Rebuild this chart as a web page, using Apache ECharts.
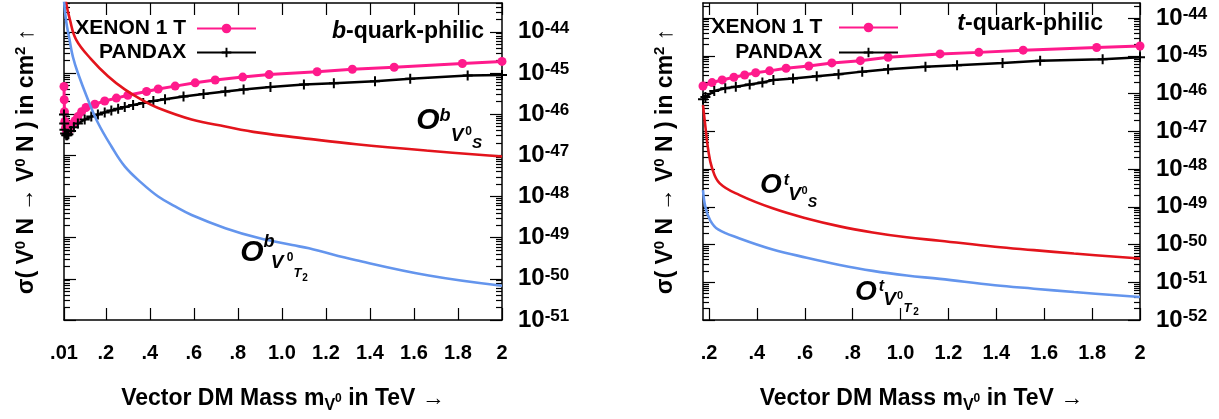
<!DOCTYPE html>
<html><head><meta charset="utf-8">
<script src="https://cdn.jsdelivr.net/npm/echarts@6/dist/echarts.min.js"></script>
<style>html,body{margin:0;padding:0;background:#fff}#c{width:1219px;height:419px}</style>
</head><body><div id="c"></div>
<script>
// ---------------- data (masses in TeV, cross-sections in cm^2) ----------------
const xTicksB = [0.01, 0.2, 0.4, 0.6, 0.8, 1.0, 1.2, 1.4, 1.6, 1.8, 2.0];
const xLabelsB = ['.01', '.2', '.4', '.6', '.8', '1.0', '1.2', '1.4', '1.6', '1.8', '2'];
const xTicksT = [0.2, 0.4, 0.6, 0.8, 1.0, 1.2, 1.4, 1.6, 1.8, 2.0];
const xLabelsT = ['.2', '.4', '.6', '.8', '1.0', '1.2', '1.4', '1.6', '1.8', '2'];
const yExpB = [-51, -50, -49, -48, -47, -46, -45, -44];
const yExpT = [-52, -51, -50, -49, -48, -47, -46, -45, -44];

// b-quark-philic panel
const bMassXenon = [0.010,0.011,0.012,0.014,0.017,0.020,0.025,0.030,0.040,0.050,0.060,0.073,0.090,0.110,0.150,0.195,0.248,0.300,0.385,0.438,0.515,0.606,0.697,0.822,0.942,1.16,1.32,1.51,1.82,2.00];
const bXenon = [4.68e-46,2.24e-46,1.15e-46,6.61e-47,4.68e-47,3.98e-47,3.72e-47,3.89e-47,4.68e-47,5.75e-47,6.92e-47,8.71e-47,1.15e-46,1.45e-46,1.74e-46,2.09e-46,2.45e-46,2.88e-46,3.55e-46,4.07e-46,4.79e-46,5.75e-46,6.76e-46,7.94e-46,9.12e-46,1.07e-45,1.23e-45,1.38e-45,1.70e-45,1.91e-45];
const bMassPandax = [0.010,0.011,0.012,0.015,0.020,0.025,0.030,0.042,0.055,0.073,0.104,0.134,0.164,0.195,0.225,0.256,0.286,0.324,0.370,0.416,0.469,0.553,0.644,0.743,0.826,0.948,1.100,1.236,1.423,1.583,1.844,2.000];
const bPandax = [9.77e-47,5.89e-47,4.17e-47,3.39e-47,3.09e-47,3.09e-47,3.24e-47,3.89e-47,4.79e-47,5.89e-47,7.41e-47,8.71e-47,9.77e-47,1.10e-46,1.23e-46,1.35e-46,1.48e-46,1.66e-46,1.86e-46,2.09e-46,2.29e-46,2.69e-46,3.09e-46,3.55e-46,3.98e-46,4.57e-46,5.25e-46,5.62e-46,6.31e-46,7.24e-46,8.71e-46,8.91e-46];
const bMassOS = [0.010,0.0196,0.0365,0.065,0.134,0.21,0.286,0.362,0.438,0.590,0.743,0.895,1.123,1.338,1.667,2.0];
const bOS = [1.58e-43,5.13e-44,2.00e-44,6.46e-45,2.14e-45,8.32e-46,3.98e-46,2.24e-46,1.41e-46,7.41e-47,5.01e-47,3.55e-47,2.51e-47,1.86e-47,1.29e-47,9.33e-48];
const bMassOT2 = [0.010,0.020,0.035,0.050,0.073,0.119,0.164,0.225,0.286,0.362,0.438,0.515,0.590,0.743,0.895,1.047,1.123,1.338,1.667,2.0];
const bOT2 = [5.62e-44,1.78e-44,6.46e-45,2.51e-45,1.00e-45,2.24e-46,6.17e-47,1.66e-47,5.37e-48,2.14e-48,1.00e-48,5.75e-49,3.55e-49,1.70e-49,9.77e-50,6.61e-50,5.50e-50,2.82e-50,1.20e-50,6.76e-51];

// t-quark-philic panel
const tMassXenon = [0.175,0.213,0.255,0.304,0.349,0.395,0.453,0.522,0.617,0.713,0.832,0.948,1.165,1.327,1.512,1.819,2.000];
const tXenon = [1.58e-46,1.95e-46,2.29e-46,2.69e-46,3.09e-46,3.55e-46,3.98e-46,4.68e-46,5.37e-46,6.46e-46,7.41e-46,9.12e-46,1.12e-45,1.23e-45,1.41e-45,1.66e-45,1.82e-45];
const tMassPandax = [0.175,0.185,0.222,0.268,0.312,0.370,0.423,0.469,0.551,0.650,0.741,0.840,0.948,1.104,1.236,1.426,1.583,1.844,2.000];
const tPandax = [7.08e-47,8.13e-47,1.17e-46,1.38e-46,1.51e-46,1.74e-46,1.95e-46,2.29e-46,2.51e-46,2.88e-46,3.24e-46,3.80e-46,4.37e-46,5.13e-46,5.62e-46,6.46e-46,7.41e-46,8.13e-46,9.12e-46];
const tMassOS = [0.175,0.185,0.197,0.213,0.245,0.328,0.466,0.608,0.746,0.884,1.026,1.164,1.394,1.557,1.724,2.000];
const tOS = [4.90e-47,1.32e-47,3.16e-48,1.05e-48,4.17e-49,2.04e-49,9.12e-50,4.90e-50,3.02e-50,2.09e-50,1.55e-50,1.26e-50,8.71e-51,7.08e-51,5.75e-51,4.27e-51];
const tMassOT2 = [0.175,0.185,0.205,0.238,0.328,0.466,0.608,0.746,0.884,1.026,1.164,1.394,1.557,1.724,2.000];
const tOT2 = [2.75e-49,9.77e-50,4.37e-50,2.51e-50,1.45e-50,7.41e-51,4.47e-51,2.88e-51,2.00e-51,1.51e-51,1.23e-51,8.32e-52,6.76e-52,5.50e-52,4.07e-52];

// axis ranges
const xRangeB = [0.01, 2.0];
const xRangeT = [0.175, 2.0];
const yMaxB = 5e-44;
const yMaxT = 2.5e-44;

// ---------------- styling / building ----------------
const FONT = "'Liberation Sans', Arial, Helvetica, sans-serif";
const PINK = '#ff1a8c', RED = '#e3141c', BLUE = '#6495ed';
const PLUS = 'path://M4,0H6V4H10V6H6V10H4V6H0V4H4Z';
const SCALE = 1e44; // plotting unit on the hidden log axis: 1e-44 cm^2
const axisLineStyle = {color: '#000', width: 1.5};
const tickStyle = {color: '#000', width: 1.2};

function nearestIndex(arr, v) {
  let best = 0;
  arr.forEach((t, i) => { if (Math.abs(t - v) < Math.abs(arr[best] - v)) best = i; });
  return best;
}
function pairs(xs, ys) { return xs.map((x, i) => [x, ys[i] * SCALE]); }
function minorExps(expMin, expMax) {
  const out = [];
  for (let e = expMin; e < expMax; e++) {
    for (let m = 2; m <= 9; m++) {
      const v = e + Math.log10(m);
      if (v <= expMax + 1e-9) out.push(v);
    }
  }
  return out;
}

const xNameRich = {
  t: {fontFamily: FONT, fontWeight: 'bold', fontSize: 23, color: '#000', lineHeight: 30, verticalAlign: 'middle'},
  sub: {fontFamily: FONT, fontWeight: 'bold', fontSize: 16, color: '#000', lineHeight: 16, verticalAlign: 'bottom'},
  ss: {fontFamily: FONT, fontWeight: 'bold', fontSize: 12, color: '#000', lineHeight: 12, verticalAlign: 'middle'}
};
const yNameRich = {
  t: {fontFamily: FONT, fontWeight: 'bold', fontSize: 23, color: '#000', lineHeight: 28, verticalAlign: 'middle'},
  sup: {fontFamily: FONT, fontWeight: 'bold', fontSize: 15, color: '#000', lineHeight: 15, verticalAlign: 'top'}
};
const yLabelRich = {
  b: {fontFamily: FONT, fontWeight: 'bold', fontSize: 24, color: '#000', lineHeight: 24, verticalAlign: 'middle'},
  s: {fontFamily: FONT, fontWeight: 'bold', fontSize: 17, color: '#000', lineHeight: 17, verticalAlign: 'top'}
};

function makeXAxes(gi, range, ticks, labels) {
  const common = {gridIndex: gi, type: 'value', min: range[0], max: range[1], splitLine: {show: false},
    axisLine: {show: true, onZero: false, lineStyle: axisLineStyle},
    axisTick: {show: true, inside: true, length: 12, customValues: ticks, lineStyle: tickStyle}};
  return [
    Object.assign({}, common, {position: 'bottom',
      axisLabel: {show: true, customValues: ticks, margin: 23, fontSize: 20, fontWeight: 'bold', fontFamily: FONT, color: '#000',
        formatter: v => labels[nearestIndex(ticks, v)]},
      name: '{t|Vector DM Mass m}{sub|V}{ss|0}{t| in TeV →}', nameLocation: 'middle', nameGap: 64,
      nameTextStyle: {rich: xNameRich}}),
    Object.assign({}, common, {position: 'top', axisLabel: {show: false}})
  ];
}

function makeYAxes(gi, majors, yMax) {
  const expMin = majors[0];
  const expMax = Math.log10(yMax);
  const minors = minorExps(expMin, expMax);
  const common = {gridIndex: gi, type: 'value', min: expMin, max: expMax, splitLine: {show: false}, axisLabel: {show: false}};
  return [
    Object.assign({}, common, {position: 'left',
      axisLine: {show: true, lineStyle: axisLineStyle},
      axisTick: {show: true, inside: true, length: 12, customValues: majors, lineStyle: tickStyle},
      name: '{t|σ( V}{sup|0}{t| N → V}{sup|0}{t| N ) in cm}{sup|2}{t| ↑}', nameLocation: 'middle', nameRotate: 90, nameGap: 23,
      nameTextStyle: {rich: yNameRich}}),
    Object.assign({}, common, {position: 'left', axisLine: {show: false},
      axisTick: {show: true, inside: true, length: 6, customValues: minors, lineStyle: tickStyle}}),
    Object.assign({}, common, {position: 'right',
      axisLine: {show: true, lineStyle: axisLineStyle},
      axisTick: {show: true, inside: true, length: 12, customValues: majors, lineStyle: tickStyle},
      axisLabel: {show: true, customValues: majors, margin: 16, formatter: v => '{b|10}{s|' + Math.round(v) + '}', rich: yLabelRich}}),
    Object.assign({}, common, {position: 'right', axisLine: {show: false},
      axisTick: {show: true, inside: true, length: 6, customValues: minors, lineStyle: tickStyle}}),
    {gridIndex: gi, type: 'log', min: Math.pow(10, expMin) * SCALE, max: yMax * SCALE, show: false}
  ];
}

function makeSeries(gi, xen, pan, os, ot2) {
  const xi = gi * 2, yi = gi * 5 + 4;
  return [
    {name: 'XENON 1 T', type: 'line', xAxisIndex: xi, yAxisIndex: yi, data: xen, symbol: 'circle', symbolSize: 9,
      showAllSymbol: true, lineStyle: {color: PINK, width: 3}, itemStyle: {color: PINK}, z: 3},
    {name: 'PANDAX', type: 'line', xAxisIndex: xi, yAxisIndex: yi, data: pan, symbol: PLUS, symbolSize: 10,
      showAllSymbol: true, lineStyle: {color: '#000', width: 2.5}, itemStyle: {color: '#000'}, z: 3},
    {name: 'OS', type: 'line', xAxisIndex: xi, yAxisIndex: yi, data: os, showSymbol: false, smooth: 0.4,
      lineStyle: {color: RED, width: 2.6}, itemStyle: {color: RED}, z: 4},
    {name: 'OT2', type: 'line', xAxisIndex: xi, yAxisIndex: yi, data: ot2, showSymbol: false, smooth: 0.4,
      lineStyle: {color: BLUE, width: 2.6}, itemStyle: {color: BLUE}, z: 4}
  ];
}

function legendFor(right, top, gap, pad) {
  return {data: ['XENON 1 T', 'PANDAX'], orient: 'vertical', align: 'right', right: right, top: top, padding: 0,
    itemWidth: 59, itemHeight: 12, itemGap: gap, selectedMode: false,
    formatter: n => n + pad,
    textStyle: {fontSize: 21, fontWeight: 'bold', fontFamily: FONT, color: '#000'}};
}

function glyph(text, x, y, size, italic) {
  return {type: 'text', x: x, y: y, z: 20, silent: true,
    style: {text: text, fill: '#000', fontSize: size, fontWeight: 'bold', fontStyle: italic ? 'italic' : 'normal',
      fontFamily: FONT, align: 'center', verticalAlign: 'middle'}};
}
function quarkLabel(q, x, y) {
  return {type: 'text', x: x, y: y, z: 20, silent: true,
    style: {text: '{i|' + q + '}{n|-quark-philic}', align: 'right', verticalAlign: 'middle',
      rich: {i: {fontSize: 23, fontWeight: 'bold', fontStyle: 'italic', fontFamily: FONT, fill: '#000'},
             n: {fontSize: 23, fontWeight: 'bold', fontFamily: FONT, fill: '#000'}}}};
}

const graphics = [
  quarkLabel('b', 484, 32),
  quarkLabel('t', 1103, 24),
  // O^b_{V0_S}
  glyph('O', 428, 121, 30, true), glyph('b', 445, 116, 18, true), glyph('V', 457, 136, 19, true),
  glyph('0', 468.5, 131.5, 12, false), glyph('S', 477, 143.5, 15, true),
  // O^b_{V0_T2}
  glyph('O', 252, 253, 30, true), glyph('b', 269, 242, 18, true), glyph('V', 277, 263, 19, true),
  glyph('0', 290, 257.5, 12, false), glyph('T', 297.5, 273, 13, true), glyph('2', 305, 278, 10, false),
  // O^t_{V0_S}
  glyph('O', 771, 185, 28, true), glyph('t', 786.5, 181, 16, true), glyph('V', 794.5, 195, 19, true),
  glyph('0', 804.5, 191, 11, false), glyph('S', 812.5, 203, 14, true),
  // O^t_{V0_T2}
  glyph('O', 866, 292, 28, true), glyph('t', 881.5, 287, 16, true), glyph('V', 889.5, 300, 19, true),
  glyph('0', 900, 295.5, 11, false), glyph('T', 907.5, 308, 13, true), glyph('2', 916, 312.5, 10, false)
];

const option = {
  animation: false,
  backgroundColor: '#fff',
  grid: [
    {left: 64, top: 3, width: 438, height: 317},
    {left: 703, top: 3, width: 437, height: 317}
  ],
  xAxis: makeXAxes(0, xRangeB, xTicksB, xLabelsB).concat(makeXAxes(1, xRangeT, xTicksT, xLabelsT)),
  yAxis: makeYAxes(0, yExpB, yMaxB).concat(makeYAxes(1, yExpT, yMaxT)),
  legend: [legendFor(962, 18, 3, ' '), legendFor(320, 17, 4, '  ')],
  series: makeSeries(0, pairs(bMassXenon, bXenon), pairs(bMassPandax, bPandax), pairs(bMassOS, bOS), pairs(bMassOT2, bOT2))
    .concat(makeSeries(1, pairs(tMassXenon, tXenon), pairs(tMassPandax, tPandax), pairs(tMassOS, tOS), pairs(tMassOT2, tOT2))),
  graphic: graphics
};

const chart = echarts.init(document.getElementById('c'), null, {renderer: 'canvas', width: 1219, height: 419});
chart.setOption(option);
</script>
</body></html>
